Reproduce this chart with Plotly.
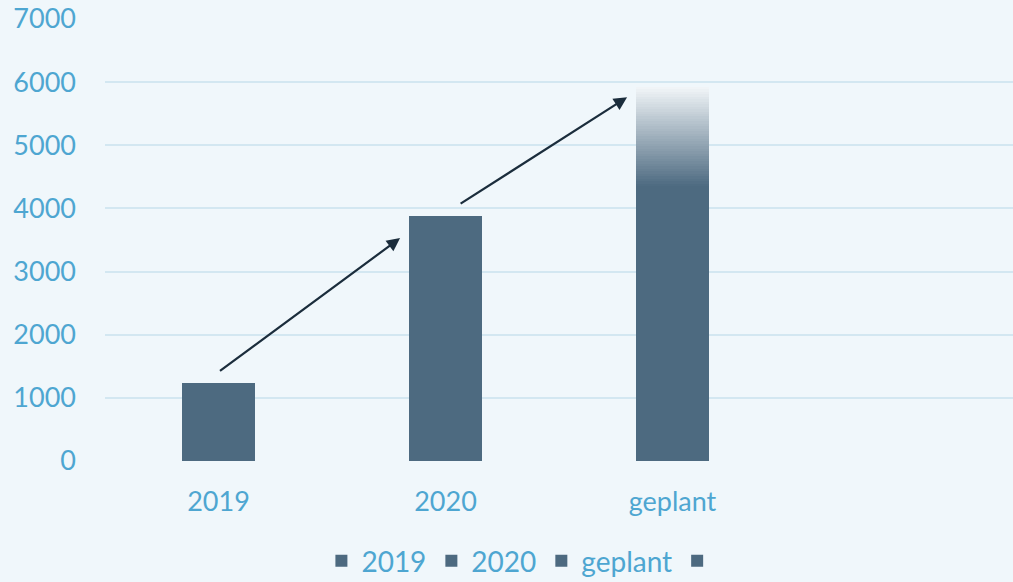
import plotly.graph_objects as go

categories = ["2019", "2020", "geplant", " "]
values = [1235, 3880, 5930, None]
# fade on the planned bar starts at this value
fade_start = 4350
# arrows: (x0, y0, x1, y1) in category index / value units
arrows = [(0.0, 1410, 0.80, 3530), (1.06, 4060, 1.80, 5760)]

BG = "#f0f7fb"
BAR = "#4d6a80"
TEXT = "#4ea6d1"
GRID = "#d3e7f1"
ARROW = "#1b2d3c"
FONT = "Lato, 'Open Sans', sans-serif"


def _blend(c1, c2, t):
    a = [int(c1[i:i + 2], 16) for i in (1, 3, 5)]
    b = [int(c2[i:i + 2], 16) for i in (1, 3, 5)]
    return "rgb({},{},{})".format(*[round(a[k] + (b[k] - a[k]) * t) for k in range(3)])


fig = go.Figure()
for cat, val in zip(categories, values):
    if cat == "geplant":
        fig.add_trace(go.Bar(x=[cat], y=[fade_start], name=cat, width=0.32,
                             marker={"color": BAR, "line": {"width": 0}},
                             legendgroup=cat))
        steps = 40
        seg = (val - fade_start) / steps
        for i in range(steps):
            fig.add_trace(go.Bar(x=[cat], y=[seg], width=0.32, showlegend=False,
                                 legendgroup=cat, hoverinfo="skip",
                                 marker={"color": _blend(BAR, "#f2f6f9", (i + 0.5) / steps),
                                         "line": {"width": 0}}))
    else:
        fig.add_trace(go.Bar(x=[cat], y=[val], name=cat, width=0.32,
                             marker={"color": BAR, "line": {"width": 0}}))

for x0, y0, x1, y1 in arrows:
    fig.add_annotation(x=x1, y=y1, ax=x0, ay=y0, xref="x", yref="y",
                       axref="x", ayref="y", text="", showarrow=True,
                       arrowhead=2, arrowsize=1.2, arrowwidth=2.2, arrowcolor=ARROW)

fig.update_layout(
    barmode="stack",
    width=1013, height=582,
    paper_bgcolor=BG, plot_bgcolor=BG,
    margin={"l": 105, "r": 0, "t": 19, "b": 121, "autoexpand": False},
    font={"family": FONT, "size": 27, "color": TEXT},
    xaxis={"categoryorder": "array", "categoryarray": categories,
           "range": [-0.5, 3.5], "showgrid": False, "zeroline": False,
           "ticks": "", "ticklabelstandoff": 22, "showline": False},
    yaxis={"range": [0, 7000], "dtick": 1000, "gridcolor": GRID, "gridwidth": 2,
           "zeroline": False, "ticklabelstandoff": 28, "ticks": ""},
    legend={"orientation": "h", "x": 0.463, "xanchor": "center",
            "yref": "container", "y": 0.079, "yanchor": "top",
            "traceorder": "normal", "font": {"size": 28},
            "bgcolor": "rgba(0,0,0,0)"},
    showlegend=True,
)

fig.write_html(
    "out.html",
    config={"displayModeBar": False},
    post_script="document.body.style.margin='0';document.body.style.overflow='hidden';",
)
